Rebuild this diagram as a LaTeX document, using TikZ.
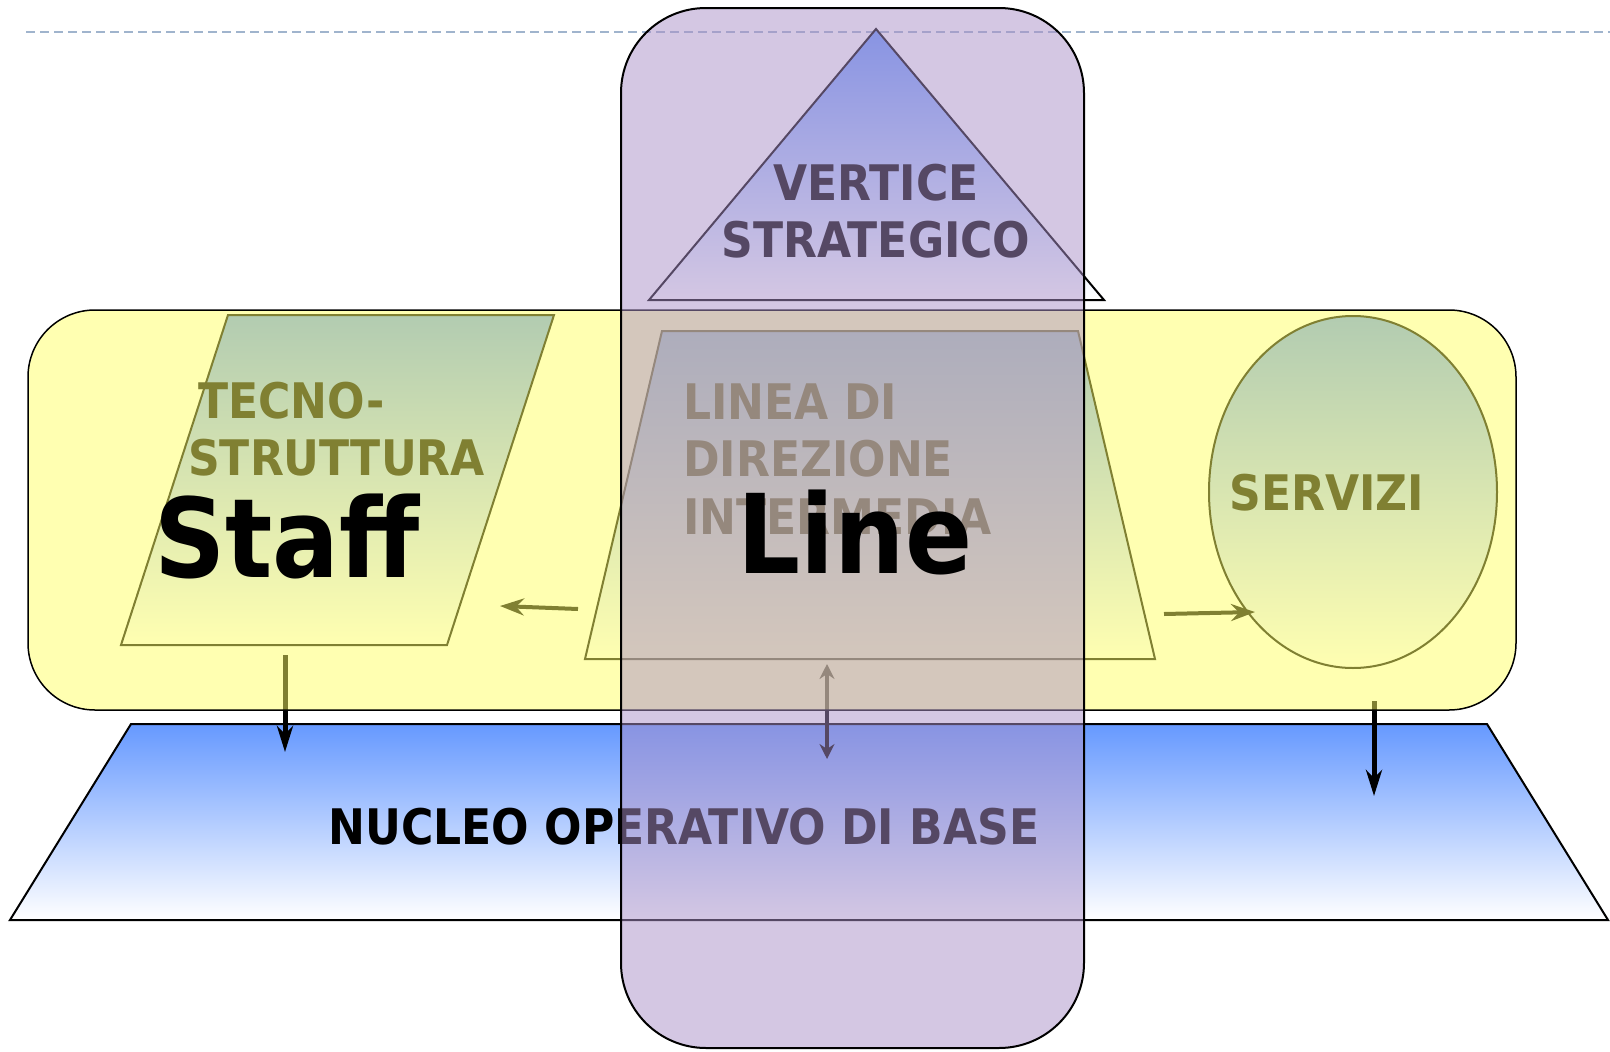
\documentclass[tikz,border=0pt]{standalone}
\usepackage{fontspec}
\setmainfont{DejaVu Sans Condensed}
\usetikzlibrary{arrows.meta}
\definecolor{nucleoblue}{RGB}{102,153,255}
\definecolor{staffyellow}{RGB}{255,255,100}
\definecolor{linepurple}{RGB}{170,144,200}
\definecolor{guide}{RGB}{160,180,205}

\begin{document}
\begin{tikzpicture}[x=1pt,y=-1pt,line join=miter]

  \tikzstyle{part}=[draw=black,line width=2pt,top color=nucleoblue,bottom color=white]
  \tikzstyle{label}=[inner sep=0pt,font=\fontsize{49}{57}\selectfont\bfseries]
  \tikzstyle{big}=[inner sep=0pt,font=\fontsize{110}{120}\selectfont\bfseries]
  \tikzstyle{staffarea}=[draw=black,line width=1.5pt,fill=staffyellow,
    fill opacity=0.5,rounded corners=67pt]
  \tikzstyle{linearea}=[draw=black,line width=2pt,fill=linepurple,
    fill opacity=0.5,rounded corners=85pt]
  \tikzstyle{flow}=[-{Stealth[length=24pt,width=17pt,inset=8pt]},line width=4pt]
  \tikzstyle{drop}=[-{Stealth[length=26pt,width=16pt,inset=8pt]},line width=5pt]
  \tikzstyle{both}=[{Stealth[length=15pt,width=15pt,inset=5pt]}-{Stealth[length=15pt,width=15pt,inset=5pt]},line width=4pt]

  \useasboundingbox (0,0) rectangle (1610,1052);

  %% \draw [help lines,step=100] (0,0) grid (1610,1052);
  \draw [guide,line width=2pt,dash pattern=on 9pt off 5pt] (26,32) -- (1610,32);

  % the five parts
  \path [part] (131,724) -- (1487,724) -- (1608,920) -- (10,920) -- cycle;
  \path [part] (228,315) -- (554,315) -- (447,645) -- (121,645) -- cycle;
  \path [part] (662,331) -- (1078,331) -- (1155,659) -- (585,659) -- cycle;
  \path [part] (1353,492) ellipse [x radius=144,y radius=176];
  \path [part] (876,29) -- (1104,300) -- (649,300) -- cycle;

  \node (vert1) at (876,200) [label,anchor=base] {VERTICE};
  \node (vert2) at (876,257) [label,anchor=base] {STRATEGICO};
  \node (tecn1) at (198,418) [label,anchor=base west] {TECNO-};
  \node (tecn2) at (188,475) [label,anchor=base west] {STRUTTURA};
  \node (lin1)  at (683,419) [label,anchor=base west] {LINEA DI};
  \node (lin2)  at (683,476) [label,anchor=base west] {DIREZIONE};
  \node (lin3)  at (683,534) [label,anchor=base west] {INTERMEDIA};
  \node (serv)  at (1327,510) [label,anchor=base] {SERVIZI};
  \node (nucl)  at (684,844) [label,anchor=base] {NUCLEO OPERATIVO DI BASE};

  \coordinate (l1) at (578,609);
  \coordinate (t1) at (500,606);
  \coordinate (l2) at (1164,614);
  \coordinate (s1) at (1255,612);
  \coordinate (t2) at (285,655);
  \coordinate (n1) at (285,752);
  \coordinate (l3) at (827,664);
  \coordinate (n2) at (827,759);
  \coordinate (s2) at (1374,701);
  \coordinate (n3) at (1374,796);

  \path (l1) edge [flow] (t1)
        (l2) edge [flow] (s1)
        (t2) edge [drop] (n1)
        (l3) edge [both] (n2)
        (s2) edge [drop] (n3);

  % staff and line
  \path [staffarea] (28,310) rectangle (1516,710);
  \path [linearea] (621,8) rectangle (1084,1048);

  \node (staff) at (287,577) [big,anchor=base] {Staff};
  \node (line)  at (855,573) [big,anchor=base] {Line};
\end{tikzpicture}
\end{document}
